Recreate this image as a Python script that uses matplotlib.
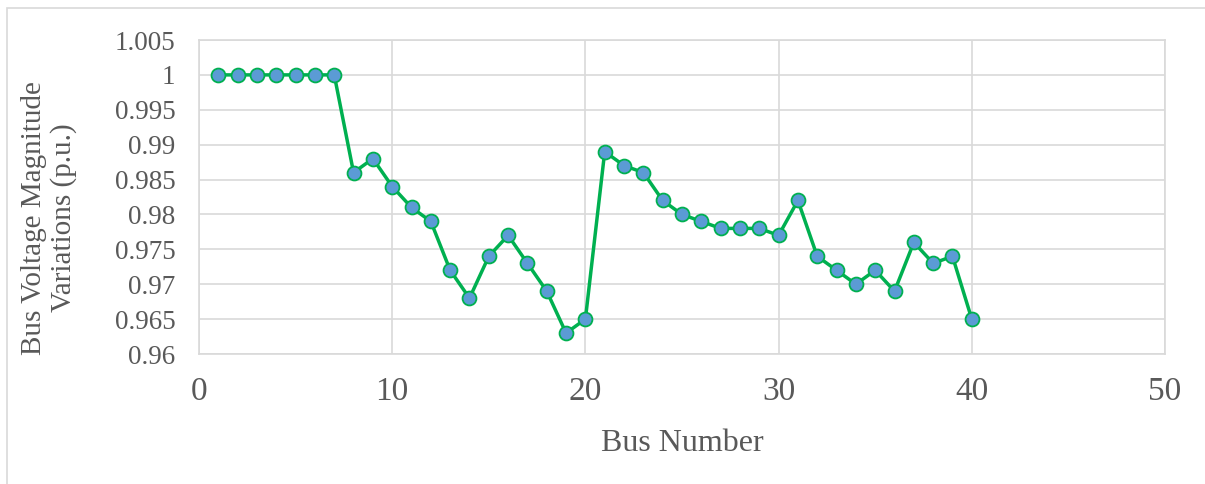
import numpy as np
from matplotlib import pyplot as plt
from matplotlib.patches import Rectangle

# Bus voltage magnitudes
bus = list(range(1, 41))
voltage = [1.000, 1.000, 1.000, 1.000, 1.000, 1.000, 1.000, 0.986, 0.988, 0.984,
           0.981, 0.979, 0.972, 0.968, 0.974, 0.977, 0.973, 0.969, 0.963, 0.965,
           0.989, 0.987, 0.986, 0.982, 0.980, 0.979, 0.978, 0.978, 0.978, 0.977,
           0.982, 0.974, 0.972, 0.970, 0.972, 0.969, 0.976, 0.973, 0.974, 0.965]
x_ticks = [0, 10, 20, 30, 40, 50]
y_ticks = [0.96, 0.965, 0.97, 0.975, 0.98, 0.985, 0.99, 0.995, 1, 1.005]
y_labels = ["0.96", "0.965", "0.97", "0.975", "0.98", "0.985", "0.99", "0.995", "1", "1.005"]

TEXT = "#595959"
GRID = "#D9D9D9"

plt.rcParams['font.family'] = ['Liberation Serif', 'DejaVu Serif']

W, H = 1205, 484
fig = plt.figure(figsize=(W / 100, H / 100), dpi=100)
# outer chart border, only the top and left edges fall inside the picture
fig.patches.append(Rectangle((7 / W, -0.05), 1.05, 1.05 - 8 / H, transform=fig.transFigure,
                             fill=False, edgecolor=GRID, linewidth=1.2))

ax = fig.add_axes([199 / W, 1 - 354 / H, (1165 - 199) / W, (354 - 40) / H])
ax.plot(bus, voltage, color="#00B050", linewidth=2.5, marker="o", markersize=10,
        markerfacecolor="#5B9BD5", markeredgecolor="#00B050", markeredgewidth=1.3,
        zorder=3)

ax.set_xlim(0, 50)
ax.set_ylim(0.96, 1.005)
ax.set_xticks(x_ticks)
ax.set_yticks(y_ticks)
ax.set_yticklabels(y_labels)
ax.grid(True, color=GRID, linewidth=1.2)
ax.set_axisbelow(True)
for s in ax.spines.values():
    s.set_color(GRID)
    s.set_linewidth(1.2)
ax.tick_params(axis="both", length=0, colors=TEXT)
ax.tick_params(axis="y", labelsize=19.5, pad=17)
ax.tick_params(axis="x", labelsize=24, pad=16)

ax.set_xlabel("Bus Number", fontsize=23, color=TEXT, labelpad=16)
fig.text(49 / W, 1 - 218 / H, "Bus Voltage Magnitude\nVariations (p.u.)", rotation=90,
         ha="center", va="center", multialignment="center", fontsize=21,
         color=TEXT, linespacing=1.15)

fig.savefig("out.png", dpi=100)
